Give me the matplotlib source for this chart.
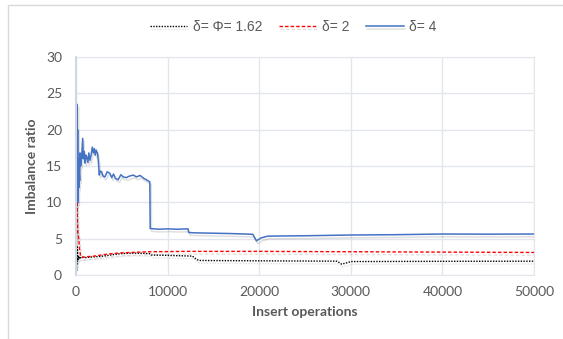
import matplotlib.pyplot as plt
from matplotlib.patches import Rectangle
import matplotlib.patheffects as pe

# delta = 4 (blue)
x_d4 = [0, 30, 60, 90, 120, 150, 180, 210, 250, 300, 350, 400, 435, 500, 600, 730, 800, 900,
        980, 1080, 1160, 1300, 1400, 1525, 1650, 1780, 1900, 2000, 2100, 2200, 2360, 2450,
        2540, 2650, 2800, 2950, 3160, 3400, 3700, 3900, 4100, 4300, 4600, 4900, 5150, 5500,
        5800, 6250, 6600, 7000, 7400, 7700, 8060, 8100, 9000, 10000, 11000, 12240, 12300,
        13000, 15000, 17000, 19300, 19700, 20200, 20950, 25000, 29850, 35000, 40000, 45000, 50000]
y_d4 = [1, 8, 21, 12, 23.5, 14, 20, 10, 16, 12, 14, 13, 16.8, 15, 16, 18.8, 16, 17,
        15.4, 16.5, 16.3, 15.5, 16.8, 15.8, 16.5, 17.6, 16.8, 17.4, 16.5, 17.2, 16.7, 15.5,
        13.75, 14.3, 14.2, 13.6, 13.5, 14.2, 14.0, 13.4, 13.9, 13.3, 13.1, 13.8, 13.5, 13.4,
        13.6, 13.75, 13.5, 13.7, 13.3, 13.1, 12.8, 6.4, 6.3, 6.35, 6.3, 6.35, 5.85,
        5.8, 5.75, 5.7, 5.6, 4.7, 5.1, 5.35, 5.4, 5.5, 5.55, 5.64, 5.62, 5.64]

# delta = 2 (red)
x_d2 = [0, 50, 100, 150, 200, 300, 400, 500, 700, 1000, 2000, 3000, 4000, 5000, 6000, 7000,
        8000, 12000, 20000, 30000, 40000, 50000]
y_d2 = [1, 5, 12, 8, 6, 5, 3.5, 2.6, 2.4, 2.5, 2.6, 2.8, 2.95, 3.05, 3.1, 3.15,
        3.2, 3.25, 3.25, 3.2, 3.15, 3.1]

# delta = phi = 1.62 (black)
x_phi = [0, 40, 80, 120, 200, 300, 400, 600, 1000, 2000, 3000, 4000, 5000, 6000, 7000, 8000,
         8200, 10000, 12700, 13000, 13400, 20000, 28500, 29000, 29500, 30000, 40000, 50000]
y_phi = [1, 3, 1.5, 4, 2, 2.6, 2.2, 2.5, 2.4, 2.5, 2.6, 2.8, 2.95, 3.0, 3.0, 2.95,
         2.75, 2.7, 2.6, 2.3, 2.0, 1.95, 1.9, 1.5, 1.65, 1.85, 1.88, 1.9]

txt = '#595959'
shadow = [pe.SimpleLineShadow(offset=(1, -2), alpha=0.12), pe.Normal()]

fig = plt.figure(figsize=(5.63, 3.39), dpi=100)
fig.patches.append(Rectangle((8/563, -0.02), 1.0, 1 - 5/339 + 0.02, transform=fig.transFigure,
                             fill=False, edgecolor='#D9D9D9', linewidth=1))
ax = fig.add_axes([76/563, 1 - 275/339, (534 - 76)/563, (275 - 57)/339])

ax.plot(x_phi, y_phi, color='black', linestyle=(0, (1, 1)), linewidth=1.0,
        label='δ= Φ= 1.62', path_effects=shadow)
ax.plot(x_d2, y_d2, color='#FF0000', linestyle=(0, (2.5, 1.5)), linewidth=1.0,
        label='δ= 2', path_effects=shadow)
ax.plot(x_d4, y_d4, color='#4472C4', linewidth=1.1, label='δ= 4', path_effects=shadow)

ax.set_xlim(0, 50000)
ax.set_ylim(0, 30)
ax.set_xticks(range(0, 50001, 10000))
ax.set_yticks(range(0, 31, 5))
ax.grid(True, color='#E3E6EC', linewidth=1)
ax.set_axisbelow(True)
for s in ax.spines.values():
    s.set_color('#E3E6EC')
ax.spines['left'].set_color('#D0D6E2')
ax.spines['left'].set_linewidth(1.5)
ax.tick_params(length=0, labelsize=10, colors=txt)
ax.tick_params(axis='y', pad=10)
ax.tick_params(axis='x', pad=8)
for lab in ax.get_xticklabels() + ax.get_yticklabels():
    lab.set_fontfamily('Lato')

ax.set_xlabel('Insert operations', fontsize=10, fontweight='bold', color=txt, family='Lato',
              labelpad=6)
ax.set_ylabel('Imbalance ratio', fontsize=10, fontweight='bold', color=txt, family='Lato',
              labelpad=6)

leg = fig.legend(loc='center', bbox_to_anchor=(293/563, 1 - 27/339), ncol=3, frameon=False,
                 prop={'family': 'Liberation Sans', 'size': 10}, handlelength=2.7,
                 columnspacing=1.2, handletextpad=0.4)
for t in leg.get_texts():
    t.set_color(txt)

fig.savefig('out.png', dpi=100)
